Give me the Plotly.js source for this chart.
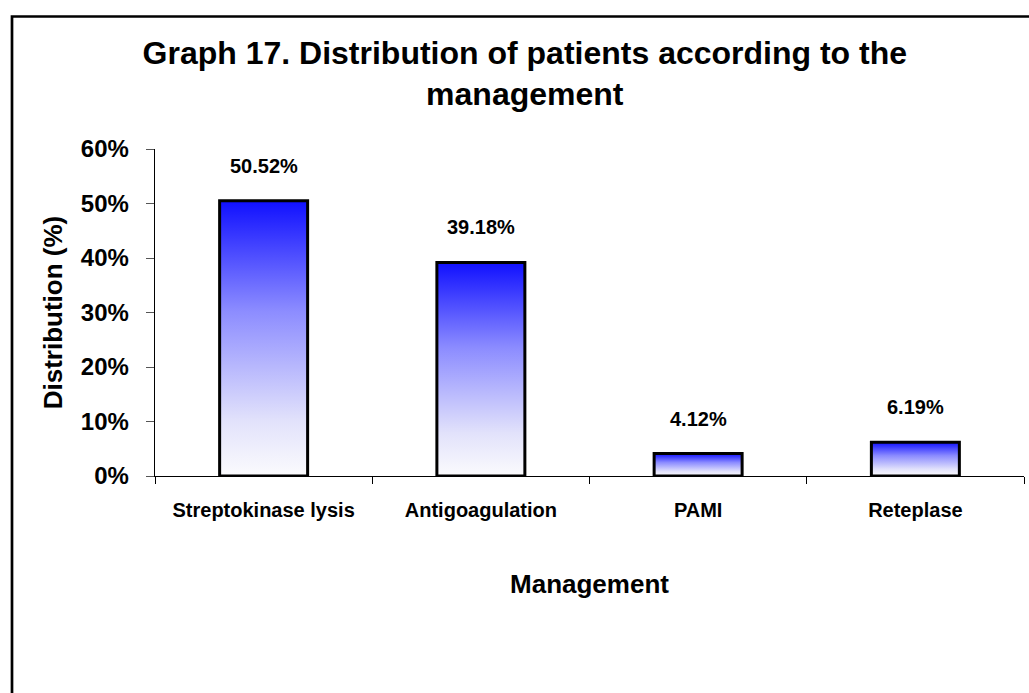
<!DOCTYPE html>
<html>
<head>
<meta charset="utf-8">
<script src="https://cdn.plot.ly/plotly-3.0.1.min.js"></script>
<style>
html, body { margin: 0; padding: 0; background: #ffffff; }
#chart { width: 1029px; height: 693px; }
</style>
</head>
<body>
<div id="chart"></div>
<script>
// ---- Data ----
const categories = ["Streptokinase lysis", "Antigoagulation", "PAMI", "Reteplase"];
const values = [50.52, 39.18, 4.12, 6.19];
const valueLabels = ["50.52%", "39.18%", "4.12%", "6.19%"];
const yTickVals = [0, 10, 20, 30, 40, 50, 60];
const yTickText = ["0%", "10%", "20%", "30%", "40%", "50%", "60%"];

const FONT = "Arial, 'Liberation Sans', Helvetica, sans-serif";

const trace = {
  type: "bar",
  x: categories,
  y: values,
  marker: { color: "#3a3aff", line: { color: "#000000", width: 3 } },
  hoverinfo: "none"
};

const annotations = categories.map((c, i) => ({
  x: c, y: values[i], xref: "x", yref: "y",
  text: valueLabels[i], showarrow: false,
  yanchor: "bottom", yshift: 22,
  font: { family: FONT, size: 20, weight: 700, color: "#000000" }
}));

const layout = {
  width: 1029, height: 693,
  paper_bgcolor: "#ffffff", plot_bgcolor: "#ffffff",
  margin: { l: 155, r: 5, t: 149, b: 217, autoexpand: false },
  showlegend: false,
  bargap: 0.595,
  title: {
    text: "Graph 17. Distribution of patients according to the<br>management",
    font: { family: FONT, size: 32, weight: 700, color: "#000000" },
    x: 0.51, xref: "container", xanchor: "center",
    y: 0.908, yref: "container", yanchor: "top"
  },
  xaxis: {
    type: "category",
    tickson: "boundaries",
    ticks: "outside", ticklen: 7, tickwidth: 1, tickcolor: "#000000",
    showline: true, linecolor: "#000000", linewidth: 1.3,
    showgrid: false, zeroline: false,
    tickfont: { family: FONT, size: 20, weight: 700, color: "#000000" },
    ticklabelstandoff: 16,
    automargin: false,
    title: { text: "Management", standoff: 54,
      font: { family: FONT, size: 26, weight: 700, color: "#000000" } }
  },
  yaxis: {
    range: [0, 60],
    tickvals: yTickVals, ticktext: yTickText,
    ticks: "outside", ticklen: 8, tickwidth: 1, tickcolor: "#555555",
    showline: true, linecolor: "#000000", linewidth: 1.3,
    showgrid: false, zeroline: false,
    tickfont: { family: FONT, size: 24, weight: 700, color: "#000000" },
    ticklabelstandoff: 12,
    automargin: false,
    title: { text: "Distribution (%)", standoff: 10,
      font: { family: FONT, size: 26, weight: 700, color: "#000000" } }
  },
  annotations: annotations,
  shapes: [{
    type: "rect", xref: "paper", yref: "paper",
    x0: (12 - 155) / 869, x1: 1.2,
    y0: -1.2, y1: (476 - 16.5) / 327,
    line: { color: "#000000", width: 2.7 },
    fillcolor: "rgba(0,0,0,0)", layer: "above"
  }]
};

Plotly.newPlot("chart", [trace], layout, { displayModeBar: false, staticPlot: true }).then(gd => {
  const svg = gd.querySelector("svg.main-svg");
  const ns = "http://www.w3.org/2000/svg";
  let defs = svg.querySelector("defs");
  if (!defs) { defs = document.createElementNS(ns, "defs"); svg.insertBefore(defs, svg.firstChild); }
  const grad = document.createElementNS(ns, "linearGradient");
  grad.setAttribute("id", "barGrad");
  grad.setAttribute("x1", "0"); grad.setAttribute("y1", "0");
  grad.setAttribute("x2", "0"); grad.setAttribute("y2", "1");
  [["0", "#1010ff"], ["0.4", "#8c8cff"], ["0.8", "#e2e2fb"], ["1", "#fbfbfd"]].forEach(([o, c]) => {
    const s = document.createElementNS(ns, "stop");
    s.setAttribute("offset", o); s.setAttribute("stop-color", c);
    grad.appendChild(s);
  });
  defs.appendChild(grad);
  gd.querySelectorAll(".barlayer .point path").forEach(p => { p.style.fill = "url(#barGrad)"; });
});
</script>
</body>
</html>
